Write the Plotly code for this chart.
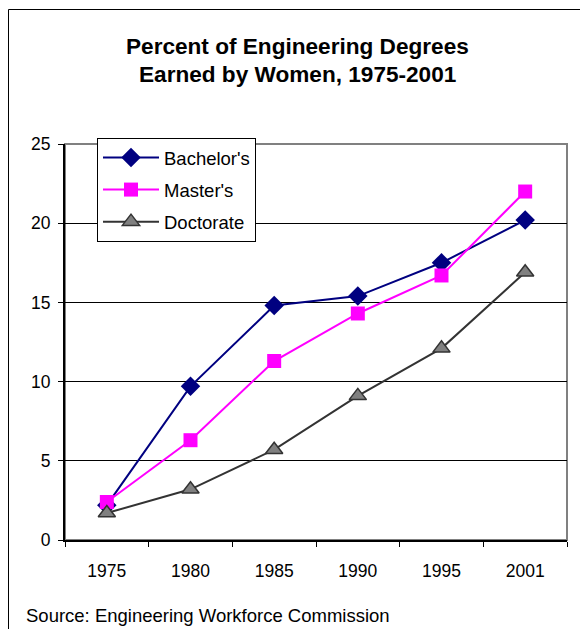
import plotly.graph_objects as go

# Survey years and share of engineering degrees earned by women (%)
years = ["1975", "1980", "1985", "1990", "1995", "2001"]
bachelors = [2.2, 9.7, 14.8, 15.4, 17.5, 20.2]
masters = [2.4, 6.3, 11.3, 14.3, 16.7, 22.0]
doctorate = [1.7, 3.2, 5.7, 9.1, 12.1, 16.9]
y_ticks = [0, 5, 10, 15, 20, 25]

FONT = "Liberation Sans, Arial, sans-serif"
W, H = 580, 629
L, R, T, B = 65, 13, 144, 89
pw, ph = W - L - R, H - T - B

fig = go.Figure()
fig.add_trace(go.Scatter(
    x=years, y=bachelors, name="Bachelor's", mode="lines+markers",
    line=dict(color="#000080", width=2),
    marker=dict(symbol="diamond", size=15, color="#000080"),
    legendgroup="b",
))
fig.add_trace(go.Scatter(
    x=years, y=masters, name="Master's", mode="lines+markers",
    line=dict(color="#FF00FF", width=2),
    marker=dict(symbol="square", size=14, color="#FF00FF"),
    legendgroup="m",
))
fig.add_trace(go.Scatter(
    x=years, y=doctorate, name="Doctorate", mode="lines+markers",
    line=dict(color="#333333", width=2),
    marker=dict(symbol="triangle-up", size=15, color="#808080",
                line=dict(color="#333333", width=1.5)),
    legendgroup="d",
))

def px_x(px):
    return (px - L) / pw

def px_y(py):
    return (H - B - py) / ph

fig.update_layout(
    width=W, height=H,
    margin=dict(l=L, r=R, t=T, b=B),
    paper_bgcolor="white", plot_bgcolor="white",
    font=dict(family=FONT, size=17.5, color="black"),
    showlegend=True,
    legend=dict(
        x=px_x(97), y=px_y(138), xanchor="left", yanchor="top",
        bordercolor="black", borderwidth=1, bgcolor="white",
        font=dict(size=18.5), tracegroupgap=5, itemwidth=56,
    ),
    xaxis=dict(
        type="category", tickson="boundaries", range=[-0.5, 5.5],
        ticks="outside", ticklen=5, tickcolor="black",
        showline=True, linecolor="black", linewidth=2,
        showgrid=False, ticklabelstandoff=14,
        tickfont=dict(size=17.5),
    ),
    yaxis=dict(
        range=[0, 25], tickvals=y_ticks,
        ticks="outside", ticklen=5, tickcolor="black",
        showline=True, linecolor="black", linewidth=2,
        showgrid=True, gridcolor="black", gridwidth=1,
        zeroline=False, ticklabelstandoff=4,
        tickfont=dict(size=17.5),
    ),
    shapes=[
        # plot-area frame
        dict(type="rect", xref="paper", yref="paper", x0=0, x1=1, y0=0, y1=1,
             line=dict(color="#808080", width=2), layer="below"),
        # chart-area border
        dict(type="line", xref="paper", yref="paper",
             x0=px_x(8.5), x1=px_x(8.5), y0=px_y(9.5), y1=px_y(700),
             line=dict(color="black", width=1)),
        dict(type="line", xref="paper", yref="paper",
             x0=px_x(8.5), x1=px_x(700), y0=px_y(9.5), y1=px_y(9.5),
             line=dict(color="black", width=1)),
    ],
    annotations=[
        dict(text="<b>Percent of Engineering Degrees</b>", xref="paper", yref="paper",
             x=px_x(297), y=px_y(46), xanchor="center", yanchor="middle",
             showarrow=False, font=dict(size=22.6, family=FONT)),
        dict(text="<b>Earned by Women, 1975-2001</b>", xref="paper", yref="paper",
             x=px_x(297), y=px_y(75), xanchor="center", yanchor="middle",
             showarrow=False, font=dict(size=22.6, family=FONT)),
        dict(text="Source: Engineering Workforce Commission", xref="paper", yref="paper",
             x=px_x(24), y=px_y(615), xanchor="left", yanchor="middle",
             showarrow=False, font=dict(size=18.5, family=FONT)),
    ],
)

fig.write_html("out.html")
